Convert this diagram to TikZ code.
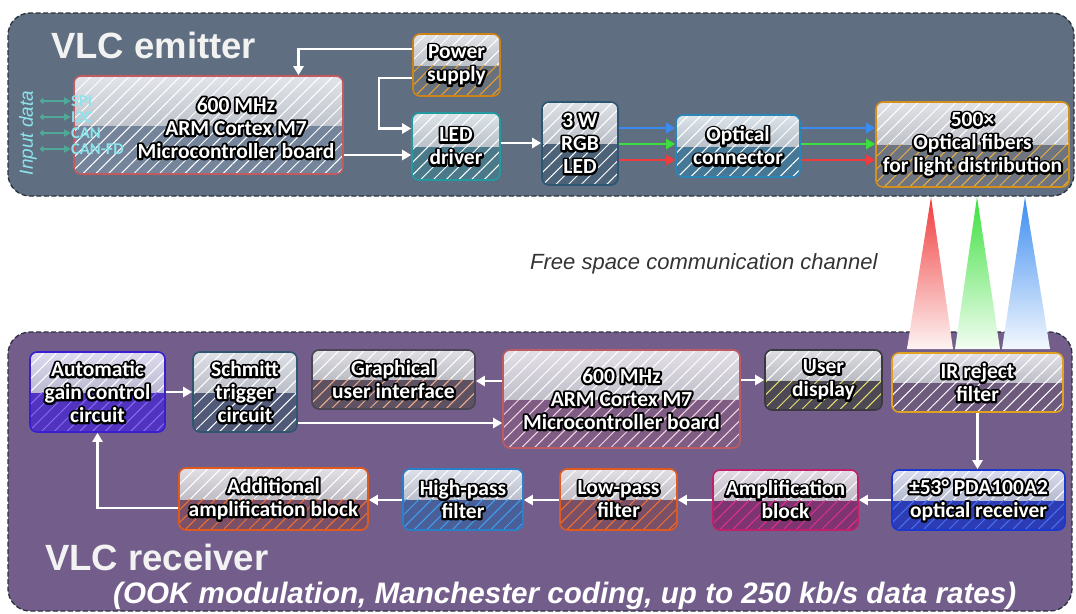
\documentclass[tikz,border=0pt]{standalone}
\usepackage{fontspec}
\setmainfont{Liberation Sans}
\newfontfamily\boxfont{Carlito}
\usetikzlibrary{arrows.meta,patterns.meta,calc}

\definecolor{emitbg}{HTML}{5F6E80}
\definecolor{recvbg}{HTML}{735E8B}
\definecolor{panelline}{HTML}{2C323C}
\definecolor{glossT}{HTML}{F2F3F6}
\definecolor{glossB}{HTML}{A2A6B0}
\definecolor{inTeal}{HTML}{4FA898}
\definecolor{inLab}{HTML}{8CE4EC}
\definecolor{titlec}{HTML}{F2F2F2}
\definecolor{freec}{HTML}{333333}
\definecolor{beamR}{HTML}{F03C3C}
\definecolor{beamG}{HTML}{3CE03C}
\definecolor{beamB}{HTML}{3C8CF0}
% block colours: border / hatch / lower fill
\definecolor{mcuEb}{HTML}{C25A60}\definecolor{mcuEf}{HTML}{74849A}
\definecolor{psub}{HTML}{CC8418}\definecolor{psuh}{HTML}{E8A030}\definecolor{psuf}{HTML}{68727F}
\definecolor{drvb}{HTML}{239AA0}\definecolor{drvf}{HTML}{4A7A8A}
\definecolor{rgbb}{HTML}{2C5672}\definecolor{rgbf}{HTML}{4C6278}
\definecolor{optb}{HTML}{2A86B8}\definecolor{optf}{HTML}{447896}
\definecolor{fibb}{HTML}{D4901C}\definecolor{fibh}{HTML}{E8B040}\definecolor{fibf}{HTML}{6E7480}
\definecolor{agcb}{HTML}{3A1ED2}\definecolor{agch}{HTML}{8A6AF4}\definecolor{agcf}{HTML}{5034C0}
\definecolor{schb}{HTML}{2E566E}\definecolor{schf}{HTML}{505A78}
\definecolor{guib}{HTML}{4A4654}\definecolor{guih}{HTML}{F0B090}\definecolor{guif}{HTML}{5E5262}
\definecolor{mcuRb}{HTML}{BE5A62}\definecolor{mcuRh}{HTML}{F4D8E4}\definecolor{mcuRf}{HTML}{7E5C84}
\definecolor{usrb}{HTML}{3A3840}\definecolor{usrh}{HTML}{E8E070}\definecolor{usrf}{HTML}{4C4854}
\definecolor{irb}{HTML}{E0A020}\definecolor{irf}{HTML}{6E5A7C}
\definecolor{pdab}{HTML}{1A38D0}\definecolor{pdah}{HTML}{4A70F0}\definecolor{pdaf}{HTML}{2C3CB4}
\definecolor{ampb}{HTML}{C0206A}\definecolor{amph}{HTML}{E03090}\definecolor{ampf}{HTML}{7E3470}
\definecolor{lpb}{HTML}{E05A20}\definecolor{lph}{HTML}{F07030}\definecolor{lpf}{HTML}{7A5068}
\definecolor{hpb}{HTML}{2A80C8}\definecolor{hph}{HTML}{40A0F0}\definecolor{hpf}{HTML}{4A5E98}

% white text with a black outline: a stroked black copy under the filled white text
\newcommand\otx[1]{\rlap{\special{pdf:literal direct 1 Tr 4 w 1 j 0 0 0 RG}#1\special{pdf:literal direct 0 Tr}}#1}

\tikzset{
  boxtext/.style={font=\boxfont\bfseries\fontsize{21.5}{23}\selectfont, align=center, text=white, inner sep=0pt},
  blk/.style n args={3}{draw=#1, line width=1.6pt, rounded corners=7pt, fill=#3, inner sep=0pt,
    boxtext,
    path picture={
      \fill[sharp corners, top color=glossT, bottom color=glossB, fill opacity=.88]
        (path picture bounding box.north west) rectangle (path picture bounding box.east);
      \fill[sharp corners, pattern={Lines[angle=45,distance=9pt,line width=1pt]}, pattern color=white, fill opacity=.75]
        (path picture bounding box.north west) rectangle (path picture bounding box.east);
      \fill[sharp corners, pattern={Lines[angle=45,distance=9pt,line width=1pt]}, pattern color=#2, fill opacity=.9]
        (path picture bounding box.west) rectangle (path picture bounding box.south east);
    }},
  conn/.style={draw=white, line width=2.2pt, -{Triangle[width=10pt,length=9pt]}},
  carr/.style={draw=#1, line width=2.6pt, -{Triangle[width=10pt,length=9pt]}},
  inarr/.style={draw=inTeal, line width=1.8pt, {Circle[length=5pt]}-{Triangle[width=7pt,length=7pt]}},
  inlab/.style={font=\boxfont\bfseries\fontsize{16.5}{16.5}\selectfont, text=inLab, inner sep=0pt, anchor=west},
  panel/.style={draw=panelline, line width=1.3pt, dash pattern=on 5pt off 2.5pt, rounded corners=22pt, fill=#1},
  title/.style={font=\bfseries\fontsize{36.5}{40}\selectfont, text=titlec, inner sep=0pt, anchor=base west},
}

\newcommand\bx[7]{\node[#6, minimum width={(#4)-(#2)}, minimum height={(#5)-(#3)}] (#1) at ({((#2)+(#4))/2},{((#3)+(#5))/2}) {#7};}

\begin{document}
\begin{tikzpicture}[x=1pt,y=-1pt]
\useasboundingbox (0,0) rectangle (1076,613);

% panels
\path[panel=emitbg] (8,13) rectangle (1074,196);
\path[panel=recvbg] (8,332) rectangle (1072,611);

% titles
\node[title] (tE) at (51,58) {VLC emitter};
\node[title] (tR) at (45,570) {VLC receiver};
\node[font=\itshape\fontsize{22}{24}\selectfont, text=freec, inner sep=0pt, anchor=base west] (free) at (530,269) {Free space communication channel};
\node[font=\bfseries\itshape\fontsize{29.6}{32}\selectfont, text=white, inner sep=0pt, anchor=base west] (ook) at (113,603) {(OOK modulation, Manchester coding, up to 250 kb/s data rates)};

% emitter blocks
\bx{mcuE}{74}{76}{343}{174}{blk={mcuEb}{white}{mcuEf}}{}
\node[boxtext] (mcuEt) at (236,128) {\otx{600 MHz}\\\otx{ARM Cortex M7}\\\otx{Microcontroller board}};
\bx{psu}{413}{34}{500}{96}{blk={psub}{psuh}{psuf}}{\otx{Power}\\\otx{supply}}
\bx{drv}{412}{113}{500}{180}{blk={drvb}{white}{drvf}}{\otx{LED}\\\otx{driver}}
\bx{rgb}{542}{102}{618}{185}{blk={rgbb}{white}{rgbf}}{\otx{3 W}\\\otx{RGB}\\\otx{LED}}
\bx{opt}{676}{115}{800}{177}{blk={optb}{white}{optf}}{\otx{Optical}\\\otx{connector}}
\bx{fib}{876}{102}{1069}{187}{blk={fibb}{fibh}{fibf}}{\otx{500×}\\\otx{Optical fibers}\\\otx{for light distribution}}

% input data
\node[font=\itshape\fontsize{19}{20}\selectfont, text=inLab, rotate=90, inner sep=0pt] (indata) at (28,133) {Input data};
\coordinate (i1) at (40,101);
\coordinate (i2) at (40,117);
\coordinate (i3) at (40,133);
\coordinate (i4) at (40,149);
\node[inlab] (lSPI) at (71,101) {SPI};
\node[inlab] (lI2C) at (71,117) {I2C};
\node[inlab] (lCAN) at (71,133) {CAN};
\node[inlab] (lCANFD) at (71,149) {CAN-FD};
\draw[inarr] (i1) -- (lSPI.west);
\draw[inarr] (i2) -- (lI2C.west);
\draw[inarr] (i3) -- (lCAN.west);
\draw[inarr] (i4) -- (lCANFD.west);

% emitter connectors
\draw[conn] ([yshift=16pt]psu.west) -| ([xshift=90pt]mcuE.north);
\draw[conn] ([yshift=-13pt]psu.west) -- ++(-33,0) |- ([yshift=18pt]drv.west);
\draw[conn] ([yshift=-30pt]mcuE.east) -- ([yshift=-8.5pt]drv.west);
\draw[conn] (drv.east |- 0,143) -- (rgb.west |- 0,143);
\draw[carr=beamB] (rgb.east |- 0,128) -- (opt.west |- 0,128);
\draw[carr=beamG] (rgb.east |- 0,144) -- (opt.west |- 0,144);
\draw[carr=beamR] (rgb.east |- 0,160) -- (opt.west |- 0,160);
\draw[carr=beamB] (opt.east |- 0,128) -- (fib.west |- 0,128);
\draw[carr=beamG] (opt.east |- 0,144) -- (fib.west |- 0,144);
\draw[carr=beamR] (opt.east |- 0,160) -- (fib.west |- 0,160);

% beams
\shade[top color=beamR, bottom color=beamR!6!white] (931,197) -- (953,349) -- (907,349) -- cycle;
\shade[top color=beamG, bottom color=beamG!6!white] (977,197) -- (1000,349) -- (955,349) -- cycle;
\shade[top color=beamB, bottom color=beamB!6!white] (1025,197) -- (1050,349) -- (1002,349) -- cycle;

% receiver blocks
\bx{agc}{30}{352}{165}{432}{blk={agcb}{agch}{agcf}}{\otx{Automatic}\\\otx{gain control}\\\otx{circuit}}
\bx{sch}{193}{352}{297}{432}{blk={schb}{white}{schf}}{\otx{Schmitt}\\\otx{trigger}\\\otx{circuit}}
\bx{gui}{312}{350}{475}{409}{blk={guib}{guih}{guif}}{\otx{Graphical}\\\otx{user interface}}
\bx{mcuR}{503}{350}{740}{448}{blk={mcuRb}{mcuRh}{mcuRf}}{\otx{600 MHz}\\\otx{ARM Cortex M7}\\\otx{Microcontroller board}}
\bx{usr}{765}{350}{882}{410}{blk={usrb}{usrh}{usrf}}{\otx{User}\\\otx{display}}
\bx{ir}{892}{353}{1063}{412}{blk={irb}{white}{irf}}{\otx{IR reject}\\\otx{filter}}
\bx{pda}{892}{470}{1065}{530}{blk={pdab}{pdah}{pdaf}}{\otx{±53° PDA100A2}\\\otx{optical receiver}}
\bx{amp}{713}{470}{858}{530}{blk={ampb}{amph}{ampf}}{\otx{Amplification}\\\otx{block}}
\bx{lp}{560}{469}{677}{530}{blk={lpb}{lph}{lpf}}{\otx{Low-pass}\\\otx{filter}}
\bx{hp}{403}{469}{523}{530}{blk={hpb}{hph}{hpf}}{\otx{High-pass}\\\otx{filter}}
\bx{add}{179}{468}{368}{530}{blk={lpb}{lph}{lpf}}{\otx{Additional}\\\otx{amplification block}}

% receiver connectors
\draw[conn] (agc.east |- 0,392) -- (sch.west |- 0,392);
\draw[conn] (mcuR.west |- 0,381) -- (gui.east |- 0,381);
\draw[conn] (sch.east |- 0,423) -- (mcuR.west |- 0,423);
\draw[conn] (mcuR.east |- 0,380) -- (usr.west |- 0,380);
\draw[conn] (ir.south) -- (ir.south |- pda.north);
\draw[conn] (pda.west |- 0,500) -- (amp.east |- 0,500);
\draw[conn] (amp.west |- 0,500) -- (lp.east |- 0,500);
\draw[conn] (lp.west |- 0,500) -- (hp.east |- 0,500);
\draw[conn] (hp.west |- 0,500) -- (add.east |- 0,500);
\draw[conn] (add.west |- 0,508) -| (agc.south);
\end{tikzpicture}
\end{document}
